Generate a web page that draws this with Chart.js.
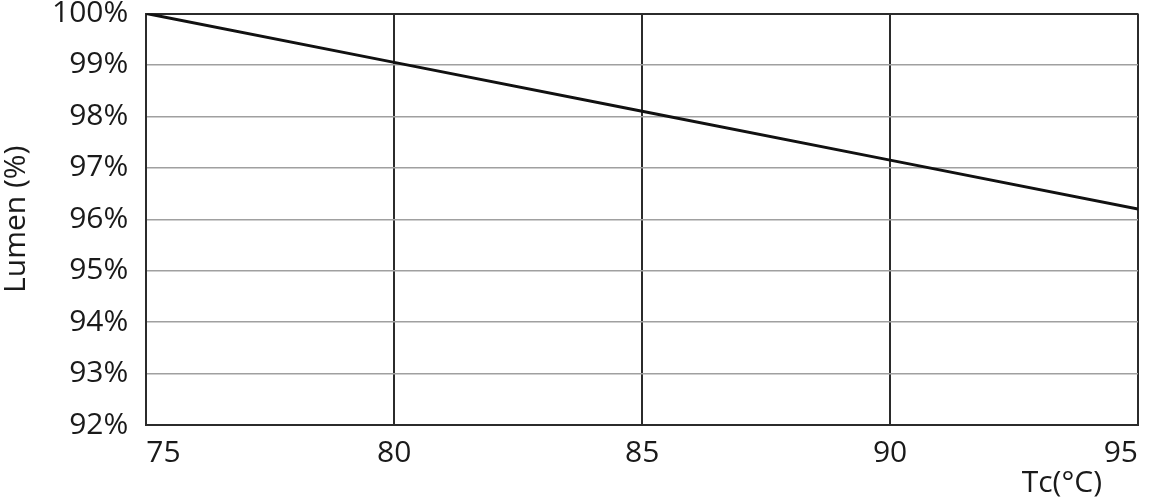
<!DOCTYPE html>
<html>
<head>
<meta charset="utf-8">
<script src="https://cdn.jsdelivr.net/npm/chart.js@4"></script>
<style>
  html, body { margin: 0; padding: 0; background: #fff; }
  #wrap { width: 1152px; height: 500px; position: relative; }
</style>
</head>
<body>
<div id="wrap"><canvas id="lumenChart"></canvas></div>
<script>
// ---- datos ----
const temperaturas = [75, 80, 85, 90, 95];
const lumen = [100, 99.05, 98.1, 97.15, 96.2];
const yMin = 92;
const yMax = 100;
const tituloX = 'Tc(°C)';
const tituloY = 'Lumen (%)';

const fuente = '"Open Sans", "DejaVu Sans", sans-serif';
const oscuro = '#2b2b2b';

// titulo del eje x a la derecha, debajo de los ticks
const tituloXPlugin = {
  id: 'tituloX',
  afterDraw(chart) {
    const ctx = chart.ctx;
    const sx = chart.scales.x;
    ctx.save();
    ctx.font = '30px ' + fuente;
    ctx.fillStyle = '#1a1a1a';
    ctx.textAlign = 'right';
    ctx.textBaseline = 'bottom';
    ctx.fillText(tituloX, sx.right - 36, chart.height - 2);
    ctx.restore();
  }
};

const ctx = document.getElementById('lumenChart');
new Chart(ctx, {
  type: 'line',
  data: {
    datasets: [{
      data: temperaturas.map((t, i) => ({ x: t, y: lumen[i] })),
      borderColor: '#111',
      borderWidth: 3,
      pointRadius: 0,
      tension: 0,
      fill: false
    }]
  },
  options: {
    responsive: true,
    maintainAspectRatio: false,
    animation: false,
    layout: { padding: { top: 0, right: 14, bottom: 19, left: -2 } },
    plugins: { legend: { display: false }, tooltip: { enabled: false } },
    scales: {
      x: {
        type: 'linear',
        min: 75,
        max: 95,
        ticks: {
          stepSize: 5,
          align: 'inner',
          padding: 10,
          color: '#1a1a1a',
          font: { family: fuente, size: 30 }
        },
        grid: { color: oscuro, lineWidth: 2, drawTicks: false },
        border: { color: oscuro, width: 2 }
      },
      y: {
        min: yMin,
        max: yMax,
        ticks: {
          stepSize: 1,
          padding: 0,
          color: '#1a1a1a',
          font: { family: fuente, size: 30, lineHeight: 0.9 },
          callback: v => v + '%'
        },
        grid: {
          color: c => (c.tick && (c.tick.value === yMax || c.tick.value === yMin)) ? oscuro : '#a0a0a0',
          lineWidth: c => (c.tick && (c.tick.value === yMax || c.tick.value === yMin)) ? 2 : 1.5,
          drawTicks: true,
          tickLength: 18,
          tickColor: 'rgba(0,0,0,0)'
        },
        border: { color: oscuro, width: 2 },
        title: {
          display: true,
          text: tituloY,
          color: '#1a1a1a',
          font: { family: fuente, size: 30 },
          padding: { top: 0, bottom: 18 }
        }
      }
    }
  },
  plugins: [tituloXPlugin]
});
</script>
</body>
</html>
